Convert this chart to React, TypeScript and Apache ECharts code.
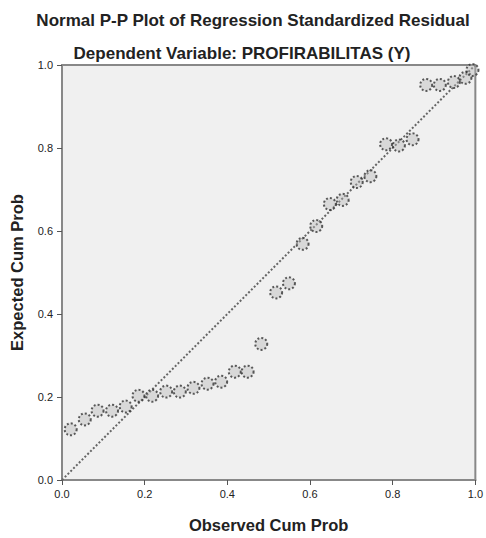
import React, { useEffect, useRef } from "react";
import * as echarts from "echarts";

const observedCumProb = [
  0.021, 0.055, 0.086, 0.121, 0.154, 0.185, 0.218, 0.252, 0.285, 0.318,
  0.352, 0.385, 0.418, 0.449, 0.482, 0.518, 0.549, 0.582, 0.615, 0.648,
  0.679, 0.713, 0.746, 0.784, 0.815, 0.848, 0.881, 0.914, 0.948, 0.976,
  0.993,
];
const expectedCumProb = [
  0.122, 0.146, 0.167, 0.167, 0.177, 0.203, 0.203, 0.213, 0.213, 0.222,
  0.232, 0.237, 0.261, 0.261, 0.328, 0.452, 0.474, 0.569, 0.612, 0.665,
  0.675, 0.718, 0.732, 0.809, 0.806, 0.821, 0.952, 0.952, 0.959, 0.969,
  0.988,
];
const referenceLine = [
  [0, 0],
  [1, 1],
];
const titleText = "Normal P-P Plot of Regression Standardized Residual";
const subtitleText = "Dependent Variable: PROFIRABILITAS (Y)";
const xTitle = "Observed Cum Prob";
const yTitle = "Expected Cum Prob";

export default function App() {
  const ref = useRef<HTMLDivElement>(null);
  useEffect(() => {
    document.body.style.margin = "0";
    const chart = echarts.init(ref.current!, null, { renderer: "svg" });
    const font = "Liberation Sans, Arial, sans-serif";
    const axisCommon = {
      type: "value" as const,
      min: 0,
      max: 1,
      interval: 0.2,
      splitLine: { show: false },
      axisLine: { show: true, lineStyle: { color: "#888", width: 2 } },
      axisTick: { show: true, length: 5, lineStyle: { color: "#555" } },
      axisLabel: {
        color: "#222",
        fontSize: 11,
        fontFamily: font,
        formatter: (v: number) => v.toFixed(1),
      },
    };
    chart.setOption({
      animation: false,
      backgroundColor: "#fff",
      title: [
        {
          text: titleText,
          left: 248,
          textAlign: "center",
          top: 7,
          textStyle: { fontSize: 17, fontWeight: "bold", color: "#222", fontFamily: font },
        },
        {
          text: subtitleText,
          left: 237,
          textAlign: "center",
          top: 40,
          textStyle: { fontSize: 17, fontWeight: "bold", color: "#222", fontFamily: font },
        },
      ],
      grid: {
        left: 61,
        top: 65,
        width: 421,
        height: 418,
        show: true,
        backgroundColor: "#f0f0f0",
        borderColor: "#888",
        borderWidth: 2,
      },
      xAxis: {
        ...axisCommon,
        name: xTitle,
        nameLocation: "middle",
        nameGap: 36,
        nameTextStyle: { fontSize: 16.5, fontWeight: "bold", color: "#222", fontFamily: font },
        axisLabel: { ...axisCommon.axisLabel, margin: 8 },
      },
      yAxis: {
        ...axisCommon,
        name: yTitle,
        nameLocation: "middle",
        nameGap: 37,
        nameTextStyle: { fontSize: 16.5, fontWeight: "bold", color: "#222", fontFamily: font },
        axisLabel: { ...axisCommon.axisLabel, margin: 9 },
      },
      series: [
        {
          type: "line",
          data: referenceLine,
          symbol: "none",
          lineStyle: { color: "#666", width: 2, type: "dotted" },
          z: 2,
        },
        {
          type: "scatter",
          data: observedCumProb.map((x, i) => [x, expectedCumProb[i]]),
          symbol: "circle",
          symbolSize: 12,
          itemStyle: {
            color: "rgba(180,180,180,0.5)",
            borderColor: "#333",
            borderWidth: 2,
            borderType: "dotted",
          },
          z: 3,
        },
      ],
    });
    return () => chart.dispose();
  }, []);
  return <div ref={ref} style={{ width: 486, height: 538 }} />;
}
